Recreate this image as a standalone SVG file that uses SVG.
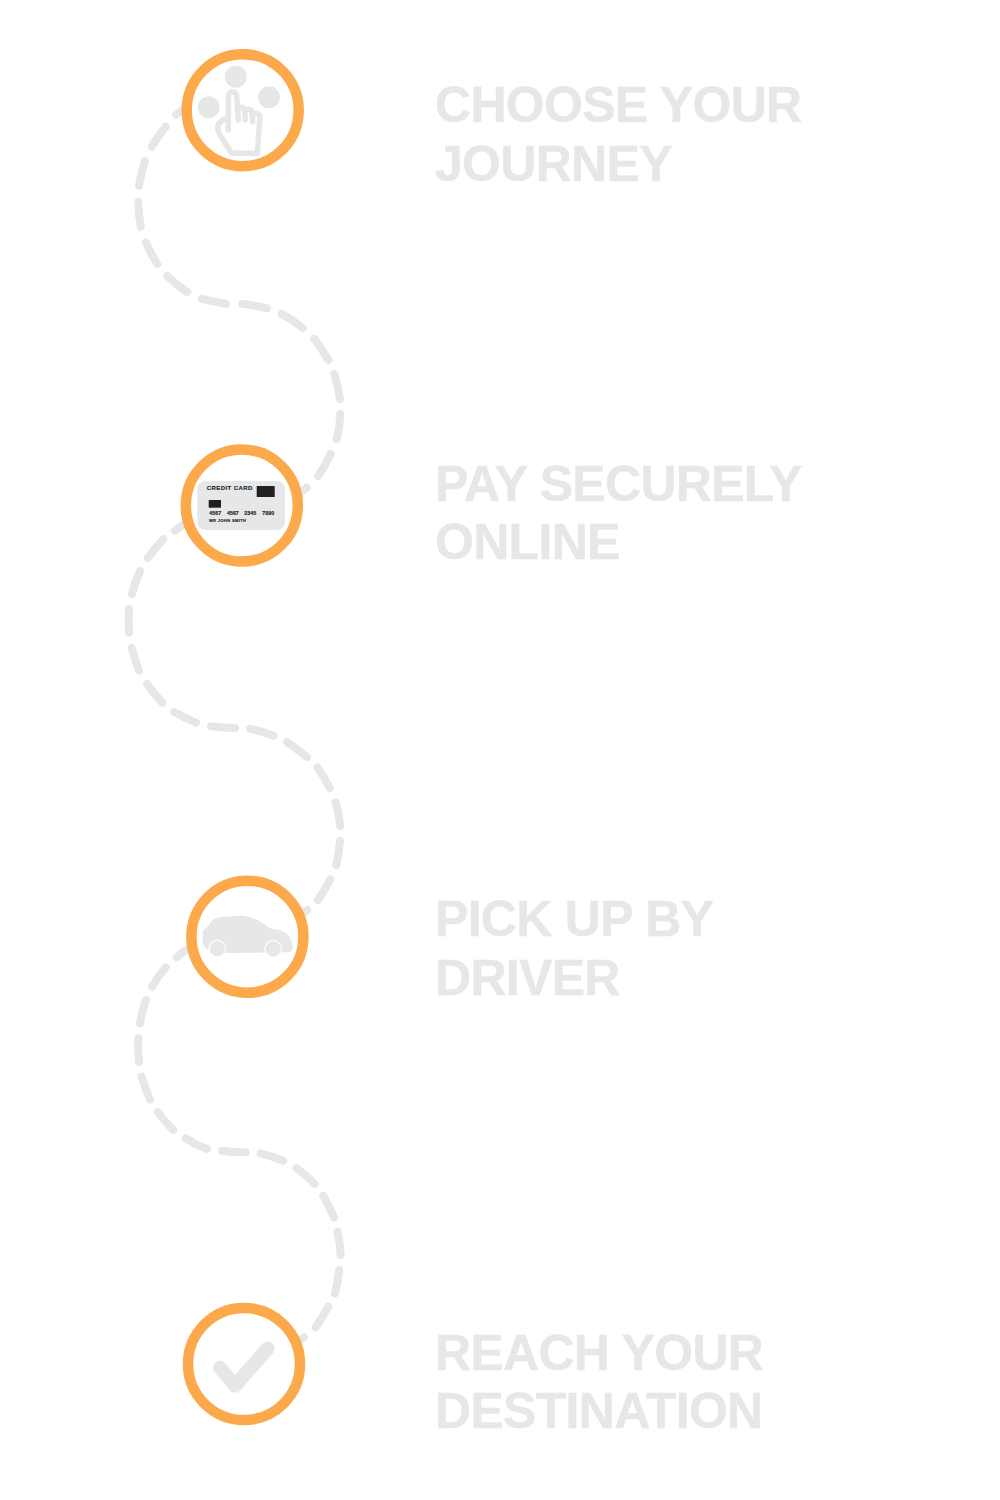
<svg xmlns="http://www.w3.org/2000/svg" width="1000" height="1500" viewBox="0 0 1000 1500">
<style>
.dash{fill:none;stroke:#E6E7E8;stroke-width:8;stroke-linecap:round}
.ring{fill:#fff;stroke:#FBA94A;stroke-width:10.5}
.g{fill:#E6E7E8}
.title{font:bold 50px "Liberation Sans",Arial,sans-serif;fill:#E6E7E8;letter-spacing:-.7px;stroke:#E6E7E8;stroke-width:.4px}
.k{fill:#231F20}
.ct{font-family:"Liberation Sans",Arial,sans-serif;font-weight:bold;fill:#231F20;stroke:#231F20;stroke-width:.15px}
</style>
<rect width="1000" height="1500" fill="#fff"/>
<g id="connectors">
<path class="dash" d="M176,115 L186,107 M165.7,126.7 Q158,136 151.7,146.7 M145,161 Q141,173 139,185.7 M138.3,201.7 Q138.5,214 140.7,226.7 M146,242.3 Q151,254 157.3,264 M167.3,276 Q176,285 187.3,292 M201.7,298.7 Q213,302 226,303.7 M242.3,304 Q255,305 266.7,308.3 M281.7,314 Q293,320 302.7,328 M314.3,338.7 Q322,349 328.3,360 M334.3,374 Q338,386 340,399 M340.3,414 Q340,427 336.7,439.3 M330.7,454 Q325,466 318.3,476 M306.7,487.7 L297,495"/>
<path class="dash" d="M185,523.3 L175,530.7 M163.3,539.3 Q155,548 147.7,558 M140,571 Q135,582 132,594 M129,609 Q128.5,621 129,632.7 M131.7,648 Q135,660 139,670.7 M147.3,684 Q154,694 162.3,702.7 M174.3,712 Q185,718 196,722.7 M211,726.3 Q223,728 235,728 M250,728.7 Q262,731 273.3,735.7 M287,742 Q297,749 307,757 M317.3,767.3 Q324,777 329.7,788 M335.7,802.3 Q339,814 340.3,826 M340,841 Q339,853 336.3,865 M330.3,879.3 Q325,890 318,900 M307.3,910 L298,917"/>
<path class="dash" d="M186.7,949.3 L176.7,957.3 M165.7,967.3 Q158,976 152,986.7 M146,1000 Q142,1011 140,1023.3 M138.3,1038.3 Q138,1050 139,1062 M141.7,1076.7 Q145,1088 150,1099.7 M157.7,1112 Q165,1122 173.3,1130 M185.7,1138.3 Q196,1145 207.3,1149 M222,1151 Q234,1152.5 245.7,1152.3 M260.7,1153.3 Q272,1156 283.3,1160.7 M296.3,1168 Q306,1175 314.7,1184 M323.3,1195.7 Q329,1206 334,1217.3 M337.7,1231.7 Q340,1243 340.7,1255 M339.3,1270 Q338,1282 335,1293.3 M328.3,1306.7 Q323,1317 315.7,1327.3 M304,1337.3 L297,1342"/>
</g>
<g id="step-1">
<circle class="ring" cx="242.7" cy="110.2" r="56"/>
<circle class="g" cx="235.7" cy="76.7" r="11"/>
<circle class="g" cx="208.7" cy="107.3" r="11"/>
<circle class="g" cx="269" cy="97.3" r="11"/>
<path d="M228.3,130 V96.7 Q228.5,91.7 232.3,91.7 Q236.5,91.7 236.7,96.7 L238.3,120 M238,108 Q244,106 244.5,110 L245.3,120 M245,110 Q251,108 252,112 L252.7,121.7 M252.5,114 Q260,112 260,117 L257.3,153.3 H231.7 L220,135 Q216,128 219,123.5 Q222,119.5 228.3,118.3" fill="none" stroke="#E6E7E8" stroke-width="5.5" stroke-linecap="round" stroke-linejoin="round"/>
</g>
<g id="step-2">
<circle class="ring" cx="241.8" cy="505.5" r="56"/>
<rect class="g" x="197.3" y="481" width="87.7" height="49" rx="8"/>
<text class="ct" x="206.7" y="490" font-size="6" textLength="45.7" lengthAdjust="spacing">CREDIT CARD</text>
<rect class="k" x="256.7" y="486" width="18" height="11"/>
<rect class="k" x="208.7" y="500" width="12.3" height="7.7"/>
<text class="ct" y="515" font-size="5.3"><tspan x="209.3">4567</tspan><tspan x="227">4567</tspan><tspan x="244.3">2345</tspan><tspan x="262.3">7890</tspan></text>
<text class="ct" x="209.3" y="522" font-size="4" textLength="36.7" lengthAdjust="spacing">MR JOHN SMITH</text>
</g>
<g id="step-3">
<circle class="ring" cx="247.4" cy="936.7" r="56"/>
<g transform="translate(175 865) scale(.33333)">
<path class="g" d="M83,205 Q85,192 95,188 L115,163 Q125,158 140,156 Q170,152 205,153 Q240,155 285,190 Q320,195 338,208 Q352,222 353,250 Q352,262 340,262 L150,264 Q115,264 100,255 Q85,248 83,232 Z"/>
<circle class="g" cx="127" cy="251" r="25" stroke="#fff" stroke-width="4"/>
<circle class="g" cx="295" cy="252" r="25" stroke="#fff" stroke-width="4"/>
</g>
</g>
<g id="step-4">
<circle class="ring" cx="244" cy="1364" r="56"/>
<path d="M220,1367.7 L235,1385.7 L267.7,1348.3" fill="none" stroke="#E6E7E8" stroke-width="14" stroke-linecap="round" stroke-linejoin="round"/>
</g>
<g id="labels">
<text class="title" x="435" y="122.3">CHOOSE YOUR</text>
<text class="title" x="435" y="181">JOURNEY</text>
<text class="title" x="435" y="501">PAY SECURELY</text>
<text class="title" x="435" y="559">ONLINE</text>
<text class="title" x="435" y="936">PICK UP BY</text>
<text class="title" x="435" y="995">DRIVER</text>
<text class="title" x="435" y="1370">REACH YOUR</text>
<text class="title" x="435" y="1428">DESTINATION</text>
</g>
</svg>
